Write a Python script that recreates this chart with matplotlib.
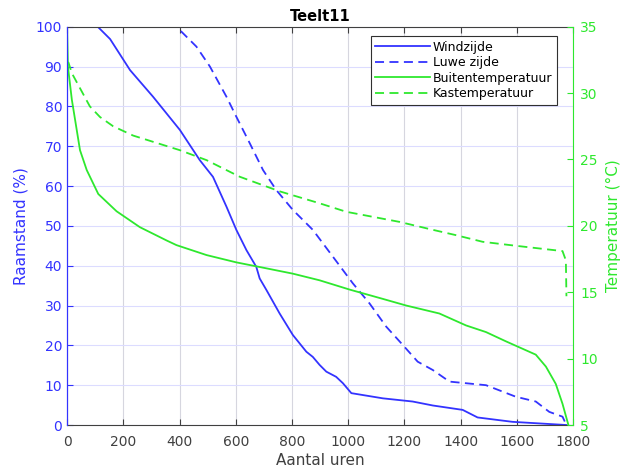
import matplotlib.pyplot as plt
import numpy as np

# Raamstand (%) vs aantal uren
wind_x = [0, 109, 153, 224, 306, 401, 472, 519, 567, 602, 638, 673, 685, 709, 756,
          803, 851, 874, 898, 922, 957, 981, 1011, 1123, 1229, 1301, 1407, 1460,
          1584, 1776]
wind_y = [100, 100, 96.9, 89.1, 82.4, 74.1, 66.5, 62.3, 54.8, 49.0, 43.9, 39.7, 36.8,
          33.9, 28.0, 22.6, 18.4, 17.1, 15.1, 13.4, 12.1, 10.5, 8.0, 6.7, 5.9, 4.9,
          3.8, 1.9, 0.8, 0.0]

luwe_x = [0, 389, 460, 508, 567, 602, 650, 697, 744, 803, 874, 945, 1016, 1076,
          1135, 1194, 1247, 1301, 1360, 1490, 1596, 1667, 1715, 1762, 1776]
luwe_y = [100, 100, 95.0, 90.0, 82.4, 77.4, 70.7, 64.0, 59.0, 54.0, 49.0, 42.3, 35.6,
          30.5, 24.7, 20.1, 15.9, 13.8, 10.9, 10.0, 7.1, 5.9, 3.3, 2.1, 0.0]

# Temperatuur (°C)
buiten_x = [0, 3, 17, 46, 70, 111, 176, 259, 354, 389, 496, 602, 709, 803, 898,
            1005, 1123, 1206, 1324, 1419, 1490, 1561, 1667, 1703, 1738, 1762, 1783]
buiten_y = [35.0, 32.0, 29.5, 25.7, 24.2, 22.4, 21.1, 19.9, 18.9, 18.55, 17.8, 17.25,
            16.8, 16.4, 15.9, 15.2, 14.5, 14.0, 13.4, 12.5, 12.0, 11.3, 10.3, 9.4,
            8.1, 6.6, 5.0]

kas_x = [0, 5, 17, 81, 117, 164, 235, 401, 496, 614, 756, 898, 993, 1182, 1301,
         1383, 1478, 1596, 1762, 1774, 1776]
kas_y = [32.3, 32.3, 31.5, 29.0, 28.2, 27.5, 26.8, 25.7, 24.95, 23.7, 22.6, 21.7,
         21.06, 20.3, 19.7, 19.3, 18.8, 18.5, 18.1, 17.4, 14.7]

blue = '#3333ff'
green = '#2ee82e'

fig = plt.figure(figsize=(6.21, 4.70), dpi=100)
ax = fig.add_axes([0.108, 0.0957, 0.815, 0.8475])
ax2 = ax.twinx()

l1, = ax.plot(wind_x, wind_y, color=blue, lw=1.3, label='Windzijde')
l2, = ax.plot(luwe_x, luwe_y, color=blue, lw=1.3, ls=(0, (5, 3)), label='Luwe zijde')
l3, = ax2.plot(buiten_x, buiten_y, color=green, lw=1.3, label='Buitentemperatuur')
l4, = ax2.plot(kas_x, kas_y, color=green, lw=1.3, ls=(0, (5, 3)), label='Kastemperatuur')

ax.set_xlim(0, 1800)
ax.set_ylim(0, 100)
ax2.set_ylim(5, 35)
ax.set_xticks(np.arange(0, 1801, 200))
ax.set_yticks(np.arange(0, 101, 10))
ax2.set_yticks(np.arange(5, 36, 5))

# grid: vertical grey, horizontal light blue
ax.grid(axis='x', color='#d6d6df', lw=0.8)
ax.grid(axis='y', color='#dcdcff', lw=0.8)
ax.set_axisbelow(True)

ax.tick_params(axis='x', direction='in', top=True, colors='#404040', labelsize=10,
               length=4, pad=7)
ax.tick_params(axis='y', direction='in', colors=blue, labelsize=10, length=4)
ax2.tick_params(axis='y', direction='in', colors=green, labelsize=10, length=4, pad=5)

for s in ['top', 'bottom']:
    ax.spines[s].set_color('#404040')
    ax2.spines[s].set_visible(False)
ax.spines['left'].set_color(blue)
ax2.spines['left'].set_color(blue)
ax2.spines['right'].set_color(green)
ax.spines['right'].set_visible(False)

ax.set_xlabel('Aantal uren', fontsize=11, color='#404040', labelpad=3)
ax.set_ylabel('Raamstand (%)', fontsize=11, color=blue, labelpad=5)
ax2.set_ylabel('Temperatuur (°C)', fontsize=11, color=green, labelpad=6)
ax.set_title('Teelt11', fontsize=10.5, fontweight='bold', pad=4)

leg = ax2.legend(handles=[l1, l2, l3, l4], loc='upper right', fontsize=9,
                 bbox_to_anchor=(0.975, 0.985), fancybox=False, framealpha=1,
                 edgecolor='#303030', handlelength=4.4, handletextpad=0.2,
                 borderpad=0.35, labelspacing=0.2, borderaxespad=0.3)
leg.get_frame().set_linewidth(0.8)

fig.savefig('out.png', dpi=100)
